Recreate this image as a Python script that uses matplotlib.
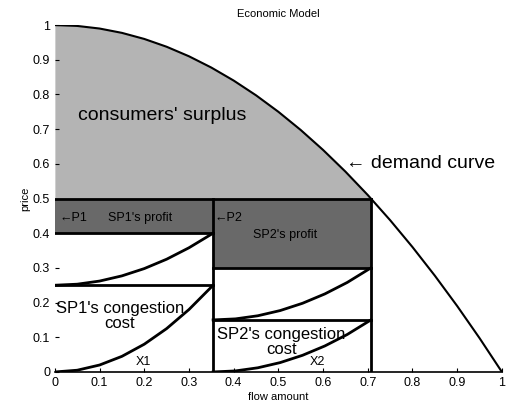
import numpy as np
import matplotlib
matplotlib.use('Agg')
import matplotlib.pyplot as plt

plt.rcParams['font.family'] = ['Liberation Sans', 'DejaVu Sans']

# demand curve
demand_x = [0, 0.05, 0.1, 0.15, 0.2, 0.25, 0.3, 0.35, 0.4, 0.45, 0.5,
            0.55, 0.6, 0.65, 0.7, 0.75, 0.8, 0.85, 0.9, 0.95, 1.0]
demand_p = [1.0, 0.9975, 0.99, 0.9775, 0.96, 0.9375, 0.91, 0.8775, 0.84, 0.7975, 0.75,
            0.6975, 0.64, 0.5775, 0.51, 0.4375, 0.36, 0.2775, 0.19, 0.0975, 0.0]

# market price and flows
price = 0.5
x1 = 0.354
x2 = 0.707
p1 = 0.4
p2 = 0.3
cost1_top = 0.25
cost2_top = 0.15

# congestion cost curves
sp1_x = [0, 0.05, 0.1, 0.15, 0.2, 0.25, 0.3, 0.354]
sp1_low = [0, 0.005, 0.02, 0.045, 0.08, 0.125, 0.18, 0.25]
sp1_up = [0.25, 0.253, 0.262, 0.277, 0.298, 0.325, 0.358, 0.40]
sp2_x = [0.354, 0.404, 0.454, 0.504, 0.554, 0.604, 0.654, 0.707]
sp2_low = [0, 0.003, 0.012, 0.027, 0.048, 0.075, 0.108, 0.15]
sp2_up = [0.15, 0.153, 0.162, 0.177, 0.198, 0.225, 0.258, 0.30]

light = '#b4b4b4'
dark = '#696969'

fig = plt.figure(figsize=(5.08, 4.11), dpi=100)
ax = fig.add_axes([0.108, 0.095, 0.880, 0.844])

dx = np.array(demand_x)
dp = np.array(demand_p)
m = dx <= x2 + 1e-9
ax.fill_between(np.append(dx[m], x2), np.append(dp[m], price), price, color=light, lw=0)
ax.fill_between([0, x1], p1, price, color=dark, lw=0)
ax.fill_between([x1, x2], p2, price, color=dark, lw=0)

ax.plot(demand_x, demand_p, color='k', lw=1.5)
lw = 2
ax.plot([0, x2], [price, price], color='k', lw=lw)
ax.plot([0, x1], [p1, p1], color='k', lw=lw)
ax.plot([x1, x2], [p2, p2], color='k', lw=lw)
ax.plot([0, x1], [cost1_top, cost1_top], color='k', lw=lw)
ax.plot([x1, x2], [cost2_top, cost2_top], color='k', lw=lw)
ax.plot([x1, x1], [0, price], color='k', lw=lw)
ax.plot([x2, x2], [0, price], color='k', lw=lw)
for xs, ys in [(sp1_x, sp1_low), (sp1_x, sp1_up), (sp2_x, sp2_low), (sp2_x, sp2_up)]:
    ax.plot(xs, ys, color='k', lw=lw)

ax.text(0.24, 0.74, "consumers' surplus", fontsize=14, ha='center', va='center')
ax.text(0.652, 0.60, u"\u2190 demand curve", fontsize=14, ha='left', va='center')
ax.text(0.01, 0.445, u"\u2190P1", fontsize=9, ha='left', va='center')
ax.text(0.19, 0.445, "SP1's profit", fontsize=9, ha='center', va='center')
ax.text(0.358, 0.445, u"\u2190P2", fontsize=9, ha='left', va='center')
ax.text(0.515, 0.395, "SP2's profit", fontsize=9, ha='center', va='center')
ax.text(0.145, 0.16, "SP1's congestion\ncost", fontsize=12, ha='center', va='center',
        linespacing=1.0)
ax.text(0.506, 0.085, "SP2's congestion\ncost", fontsize=12, ha='center', va='center',
        linespacing=1.0)
ax.text(0.197, 0.028, 'X1', fontsize=9, ha='center', va='center')
ax.text(0.588, 0.028, 'X2', fontsize=9, ha='center', va='center')

ax.set_xlim(0, 1)
ax.set_ylim(0, 1)
ax.set_xticks(np.arange(0, 1.01, 0.1))
ax.set_yticks(np.arange(0, 1.01, 0.1))
ax.set_xticklabels(['0', '0.1', '0.2', '0.3', '0.4', '0.5', '0.6', '0.7', '0.8', '0.9', '1'])
ax.set_yticklabels(['0', '0.1', '0.2', '0.3', '0.4', '0.5', '0.6', '0.7', '0.8', '0.9', '1'])
ax.tick_params(direction='in', length=3, labelsize=9)
for s in ['top', 'right', 'left']:
    ax.spines[s].set_visible(False)
ax.spines['bottom'].set_linewidth(1.2)
ax.set_title('Economic Model', fontsize=8, pad=6)
ax.set_xlabel('flow amount', fontsize=8, labelpad=2)
ax.set_ylabel('price', fontsize=8, labelpad=2)

fig.savefig('out.png', dpi=100)
